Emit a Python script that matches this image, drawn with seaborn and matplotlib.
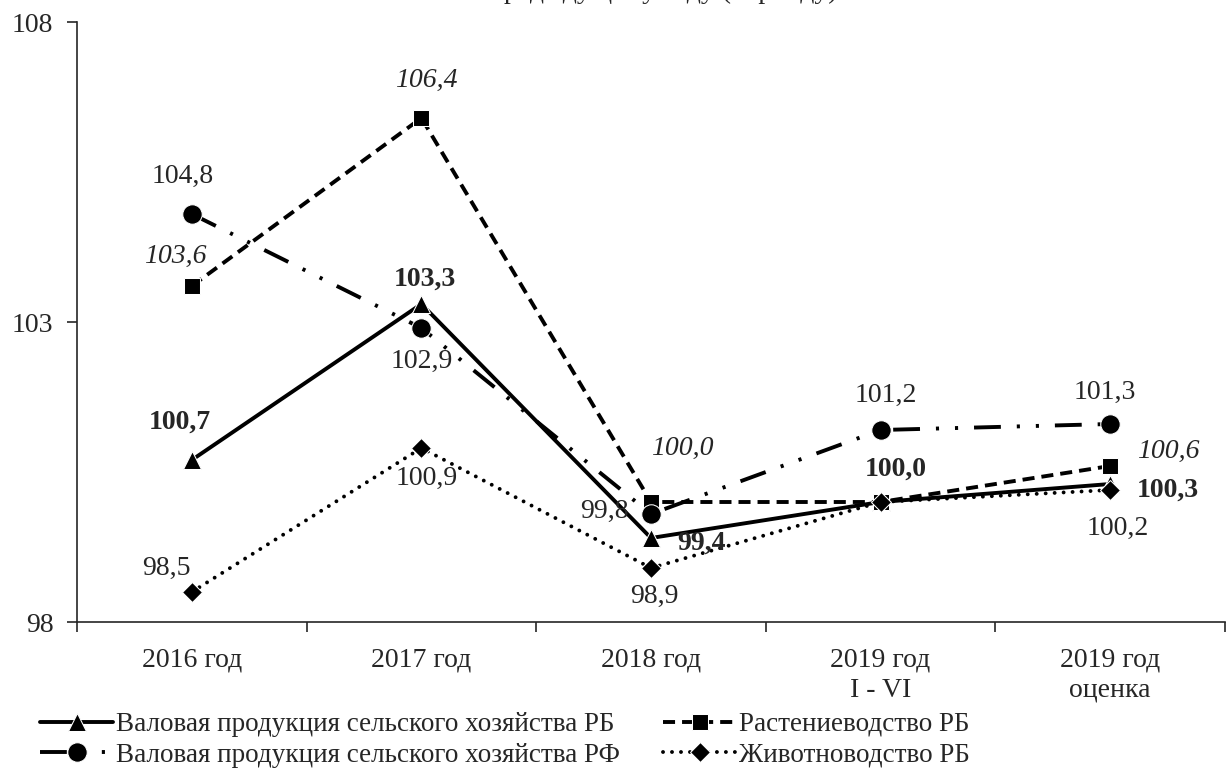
import numpy as np
import pandas as pd
import matplotlib.pyplot as plt
import seaborn as sns

# data
categories = ['2016 год', '2017 год', '2018 год', '2019 год\nI - VI', '2019 год\nоценка']
gross_rb = [100.7, 103.3, 99.4, 100.0, 100.3]
crops_rb = [103.6, 106.4, 100.0, 100.0, 100.6]
gross_rf = [104.8, 102.9, 99.8, 101.2, 101.3]
livestock_rb = [98.5, 100.9, 98.9, 100.0, 100.2]
series_names = ['Валовая продукция сельского хозяйства РБ',
                'Растениеводство РБ',
                'Валовая продукция сельского хозяйства РФ',
                'Животноводство РБ']
title_text = 'предыдущему году (периоду)'
y_ticks = [98, 103, 108]

sns.set_style('ticks')
plt.rcParams['font.family'] = ['Liberation Serif', 'DejaVu Serif']
plt.rcParams['font.size'] = 20

PX = 100 / 72  # pixels per point

fig = plt.figure(figsize=(12.27, 7.71), dpi=100)
ax = fig.add_axes([77 / 1227, 1 - 622 / 771, 1148 / 1227, 600 / 771])

xs = np.arange(len(categories))
lw = 2.8

sns.lineplot(x=xs, y=gross_rb, ax=ax, color='black', lw=lw, marker='^',
             markersize=13, linestyle='-', label=series_names[0])
sns.lineplot(x=xs, y=crops_rb, ax=ax, color='black', lw=lw, marker='s',
             markersize=12, linestyle=(0, (3.1, 1.8)), label=series_names[1])
sns.lineplot(x=xs, y=gross_rf, ax=ax, color='black', lw=lw, marker='o',
             markersize=14, linestyle=(0, (6.9, 4.1, 0.8, 4.1, 0.8, 4.1)),
             label=series_names[2])
sns.lineplot(x=xs, y=livestock_rb, ax=ax, color='black', lw=lw, marker='D',
             markersize=10, linestyle=(0, (0.01, 2.3)), dash_capstyle='round',
             label=series_names[3])


def fmt(v):
    return f'{v:.1f}'.replace('.', ',')


# label offsets in pixels (dx, dy with dy downwards); None = no label
offsets = [
    ([(-12, -38), (3, -25), (50, 5), (15, -33), (58, 6)], gross_rb, dict(fontweight='bold')),
    ([(-17, -30), (5, -38), (31, -54), None, (58, -15)], crops_rb, dict(fontstyle='italic')),
    ([(-9, -38), (0, 33), (-47, -3), (5, -35), (-5, -32)], gross_rf, {}),
    ([(-25, -24), (5, 30), (3, 28), None, (8, 38)], livestock_rb, {}),
]
for offs, vals, style in offsets:
    for i, (off, v) in enumerate(zip(offs, vals)):
        if off is None:
            continue
        ax.annotate(fmt(v), (i, v), xytext=(off[0] / PX, -off[1] / PX),
                    textcoords='offset points', ha='center', va='center',
                    fontsize=20, **style)

ax.set_xlim(-0.5, len(categories) - 0.5)
ax.set_ylim(98, 108)
ax.set_yticks(y_ticks)
ax.set_yticklabels([str(t) for t in y_ticks])
ax.set_xticks(xs)
ax.set_xticklabels(categories, linespacing=1.3)
ax.set_xticks(np.arange(-0.5, len(categories), 1.0), minor=True)
ax.tick_params(axis='x', which='major', length=0, pad=18, labelsize=20)
ax.tick_params(axis='x', which='minor', length=7, width=1.2, direction='out')
ax.tick_params(axis='y', length=7, width=1.2, direction='out', pad=10, labelsize=20)
for side in ['top', 'right']:
    ax.spines[side].set_visible(False)
for side in ['left', 'bottom']:
    ax.spines[side].set_linewidth(1.2)
ax.set_xlabel('')
ax.set_ylabel('')

handles, labels = ax.get_legend_handles_labels()
ax.get_legend().remove()
order = [0, 2, 1, 3]  # column-wise fill -> rows: RB/crops, RF/livestock
fig.legend([handles[i] for i in order], [labels[i] for i in order],
           loc='upper left', bbox_to_anchor=(40 / 1227, 1 - 712 / 771),
           ncol=2, frameon=False, fontsize=19.5, handlelength=2.7, handletextpad=0.1,
           columnspacing=1.6, labelspacing=0.22, borderpad=0, borderaxespad=0)

# title line is cut off by the top edge in the reference
fig.text(663 / 1227, 1 + 2 / 771, title_text, ha='center', va='baseline', fontsize=20)

fig.savefig('out.png', dpi=100)
